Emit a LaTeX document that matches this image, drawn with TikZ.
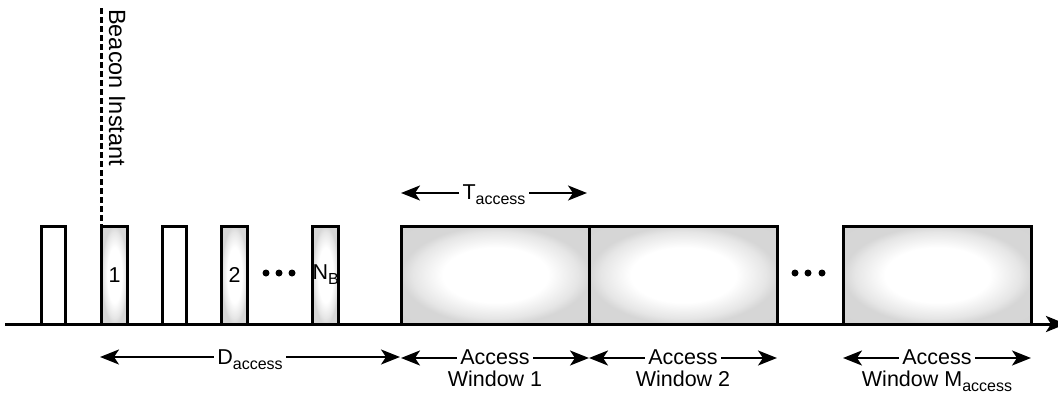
\documentclass[tikz,border=0pt]{standalone}
\usepackage{fontspec}
\setmainfont{Liberation Sans}
\usetikzlibrary{positioning, arrows.meta, calc}

\pgfdeclareradialshading{slotglow}{\pgfpoint{0bp}{0bp}}{%
  color(0bp)=(white); color(14bp)=(white); color(22bp)=(gray!20);
  color(25bp)=(gray!32); color(50bp)=(gray!34)}

\newcommand{\lowsub}[1]{\raisebox{-5pt}{\fontsize{16}{16}\selectfont #1}}

\begin{document}
\begin{tikzpicture}[
  x=1pt, y=-1pt,
  font=\fontsize{21.5}{25}\selectfont,
  slot/.style={draw, line width=3pt, minimum width=#1, minimum height=98pt,
    anchor=south west, inner sep=0pt, outer sep=0pt},
  beacon/.style={slot=26pt, shading=slotglow},
  idle/.style={slot=24pt, fill=white},
  window/.style={slot=188pt, shading=slotglow},
  span/.style={line width=2.2pt, -{Stealth[length=19pt, width=15pt, inset=5pt]}},
  dot/.style={circle, fill, inner sep=0pt, minimum size=7pt},
]
\useasboundingbox (0,0) rectangle (1058,400);

% Time axis
\coordinate (t0) at (5,324);
\coordinate (t1) at (1066,324);
\draw[line width=3pt, -{Stealth[length=20pt, width=16pt, inset=5pt]}] (t0) -- (t1);

% Beacon slots
\node[idle]   (s1) at (41.5,324) {};
\node[beacon] (b1) at (101.5,324) {1};
\node[idle]   (s2) at (162,324) {};
\node[beacon] (b2) at (221.5,324) {2};
\node[beacon] (bn) at (312.5,324) {N\lowsub{B}};
\foreach \x in {266,279,292} {
  \node[dot] (bd\x) at (\x,273) {};
}

% Beacon instant
\coordinate (bi) at (101.5,8);
\draw[line width=2.2pt, dash pattern=on 6pt off 3pt] (bi) -- (b1.north west);
\node[rotate=-90, anchor=base west, inner sep=0pt, font=\fontsize{23.5}{27}\selectfont]
  (binst) at (109,9) {Beacon Instant};

% Access windows
\node[window] (w1) at (401.5,324) {};
\node[window] (w2) at (589.5,324) {};
\node[window] (wm) at (843.5,324) {};
\foreach \x in {795,808,822} {
  \node[dot] (wd\x) at (\x,273) {};
}

% T_access
\coordinate (tl) at (401,193);
\coordinate (tr) at (587,193);
\node[anchor=base] (tlab) at (494,199) {T\lowsub{access}};
\draw[span] (tlab.west |- tl) -- (tl);
\draw[span] (tlab.east |- tr) -- (tr);

% D_access
\coordinate (dl) at (100,357);
\coordinate (dr) at (400,357);
\node[anchor=base] (dlab) at (250,364) {D\lowsub{access}};
\draw[span] (dlab.west |- dl) -- (dl);
\draw[span] (dlab.east |- dr) -- (dr);

% Window spans
\foreach \w/\l/\r/\t in {1/401/589/{Window 1}, 2/589/777/{Window 2},
                         M/843/1031/{Window M\lowsub{access}}} {
  \coordinate (al\w) at (\l,358);
  \coordinate (ar\w) at (\r,358);
  \node[anchor=base] (acc\w) at ({(\l+\r)/2},364.5) {Access};
  \node[anchor=base] (win\w) at ({(\l+\r)/2},386.5) {\t};
  \draw[span] (acc\w.west |- al\w) -- (al\w);
  \draw[span] (acc\w.east |- ar\w) -- (ar\w);
}

\end{tikzpicture}
\end{document}
